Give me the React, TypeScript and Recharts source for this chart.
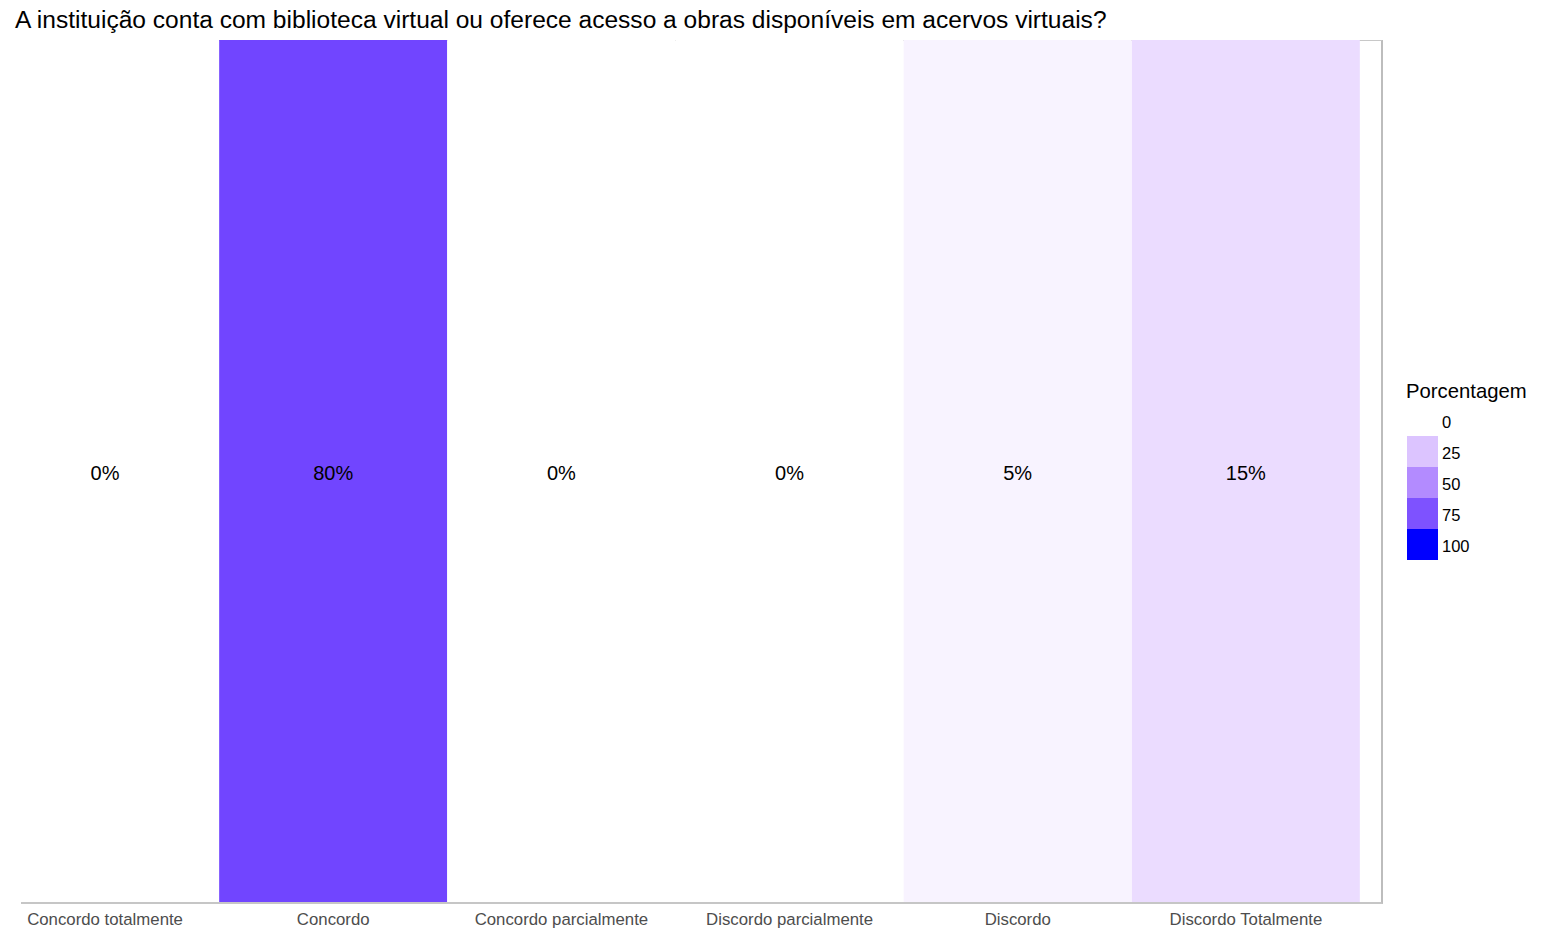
import { BarChart, Bar, XAxis, YAxis, Cell, LabelList } from 'recharts';

const categories = [
  'Concordo totalmente',
  'Concordo',
  'Concordo parcialmente',
  'Discordo parcialmente',
  'Discordo',
  'Discordo Totalmente',
];
const percentages = [0, 80, 0, 0, 5, 15];
const legendBreaks = [0, 25, 50, 75, 100];

const title =
  'A instituição conta com biblioteca virtual ou oferece acesso a obras disponíveis em acervos virtuais?';

// each tile fills the whole panel height, its colour carries the value
const data = categories.map((name, i) => ({ name, pct: percentages[i], tile: 1 }));

// white -> blue gradient interpolated in Lab space (like ggplot's scale_fill_gradient)
const toLin = (c: number) => {
  c /= 255;
  return c <= 0.04045 ? c / 12.92 : Math.pow((c + 0.055) / 1.055, 2.4);
};
const fromLin = (c: number) => {
  const v = c <= 0.0031308 ? 12.92 * c : 1.055 * Math.pow(c, 1 / 2.4) - 0.055;
  return Math.round(Math.min(1, Math.max(0, v)) * 255);
};
const Xn = 0.95047, Yn = 1, Zn = 1.08883;
const f = (t: number) => (t > 0.008856 ? Math.cbrt(t) : 7.787 * t + 16 / 116);
const finv = (t: number) => (t * t * t > 0.008856 ? t * t * t : (t - 16 / 116) / 7.787);

function rgbToLab([r8, g8, b8]: number[]) {
  const r = toLin(r8), g = toLin(g8), b = toLin(b8);
  const x = 0.4124564 * r + 0.3575761 * g + 0.1804375 * b;
  const y = 0.2126729 * r + 0.7151522 * g + 0.072175 * b;
  const z = 0.0193339 * r + 0.119192 * g + 0.9503041 * b;
  const fx = f(x / Xn), fy = f(y / Yn), fz = f(z / Zn);
  return [116 * fy - 16, 500 * (fx - fy), 200 * (fy - fz)];
}

function labToHex([L, a, bb]: number[]) {
  const fy = (L + 16) / 116;
  const fx = fy + a / 500;
  const fz = fy - bb / 200;
  const x = Xn * finv(fx), y = Yn * finv(fy), z = Zn * finv(fz);
  const r = 3.2404542 * x - 1.5371385 * y - 0.4985314 * z;
  const g = -0.969266 * x + 1.8760108 * y + 0.041556 * z;
  const b = 0.0556434 * x - 0.2040259 * y + 1.0572252 * z;
  return '#' + [r, g, b].map((c) => fromLin(c).toString(16).padStart(2, '0')).join('');
}

const lowLab = rgbToLab([255, 255, 255]);
const highLab = rgbToLab([0, 0, 255]);
const colour = (v: number) => {
  const t = v / 100;
  return labToHex(lowLab.map((l, i) => l + (highLab[i] - l) * t));
};

const font = '"Liberation Sans", Arial, sans-serif';

export default function App() {
  return (
    <div
      style={{
        position: 'fixed',
        left: 0,
        top: 0,
        width: 1543,
        height: 933,
        background: '#fff',
        fontFamily: font,
      }}
    >
      <div
        style={{
          position: 'absolute',
          left: 15,
          top: 6,
          fontSize: 24.55,
          lineHeight: '28px',
          color: '#000',
          whiteSpace: 'nowrap',
        }}
      >
        {title}
      </div>

      {/* panel border, sits under the tiles */}
      <div
        style={{
          position: 'absolute',
          left: 21,
          top: 40,
          width: 1360,
          height: 861,
          borderTop: '1px solid #c8c8c8',
          borderRight: '2px solid #bdbdbd',
          borderBottom: '2px solid #c6c6c6',
        }}
      />

      <div style={{ position: 'absolute', left: 0, top: 0 }}>
        <BarChart
          width={1543}
          height={933}
          data={data}
          margin={{ top: 40, right: 183, left: -9, bottom: 1 }}
          barCategoryGap={0}
        >
          <XAxis
            dataKey="name"
            axisLine={false}
            tickLine={false}
            height={30}
            interval={0}
            tick={{ fill: '#4d4d4d', fontSize: 16.8, fontFamily: font, dy: 3 }}
          />
          <YAxis hide domain={[0, 1]} />
          <Bar dataKey="tile" isAnimationActive={false}>
            {data.map((d) => (
              <Cell key={d.name} fill={colour(d.pct)} />
            ))}
            <LabelList
              dataKey="pct"
              position="center"
              formatter={(v: number) => `${v}%`}
              fill="#000"
              fontSize={20}
              fontFamily={font}
              dy={2}
            />
          </Bar>
        </BarChart>
      </div>

      {/* legend */}
      <div
        style={{ position: 'absolute', left: 1406, top: 379, fontSize: 20.3, lineHeight: '24px', color: '#000' }}
      >
        Porcentagem
      </div>
      {legendBreaks.map((b, i) => (
        <div key={b}>
          <div
            style={{
              position: 'absolute',
              left: 1407,
              top: 405 + i * 31,
              width: 31,
              height: 31,
              background: colour(b),
            }}
          />
          <div
            style={{
              position: 'absolute',
              left: 1442,
              top: 405 + i * 31 + 7,
              fontSize: 16.5,
              lineHeight: '20px',
              color: '#000',
            }}
          >
            {b}
          </div>
        </div>
      ))}
    </div>
  );
}
